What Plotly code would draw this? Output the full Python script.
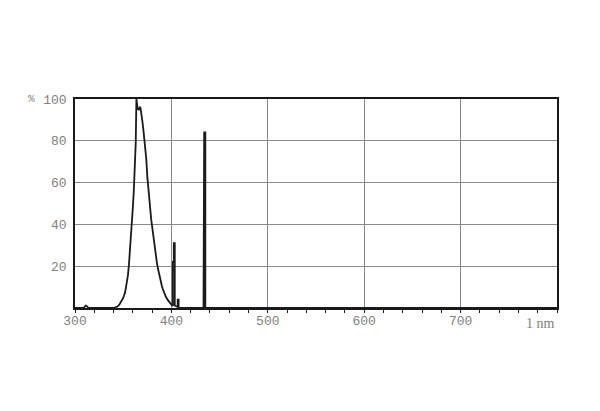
import plotly.graph_objects as go

# wavelength (nm) and transmission/intensity (%)
wavelength = [300, 309, 310, 311, 312, 313, 314, 340, 342, 344, 346, 348, 350, 352, 354, 355, 356, 357, 358, 359,
              360, 361, 362, 363, 363.7, 364.3, 365, 366, 366.6, 367.3, 368, 369, 370, 371, 372, 373, 374, 375,
              376, 377, 378, 379, 380, 381, 382, 383, 384, 385, 386, 387, 388, 389, 390, 391, 392, 394, 396,
              398, 400, 401, 401.5, 401.5, 402.5, 402.5, 403.5, 403.5, 404.5, 404.5, 406, 406.5, 406.5, 407.5,
              407.5, 409, 433.3, 433.3, 434, 434, 435.2, 435.2, 800]
percent = [0, 0, 0.6, 1.2, 1.0, 0.4, 0, 0, 0.2, 0.7, 1.6, 3.0, 4.8, 7.5, 12, 16, 21, 27, 34, 41,
           48, 56, 66, 79, 100, 97, 95.5, 94.7, 95.3, 96, 95.6, 93, 89, 85, 81, 77, 71, 63,
           57, 51, 46, 42.5, 39, 35, 31, 27.5, 24.5, 21.5, 19, 16.5, 14.5, 12.5, 10.8, 9.2, 7.8, 5.6, 4.0,
           2.6, 1.6, 1.2, 1.0, 22, 22, 31, 31, 1.2, 1.0, 0.8, 0.6, 0.5, 4, 4,
           0.3, 0, 0, 37, 37, 84, 84, 0, 0]

x_tick_vals = [300, 400, 500, 600, 700]
x_tick_text = ["300", "400", "500", "600", "700"]
y_tick_vals = [20, 40, 60, 80, 100]
y_tick_text = ["20", "40", "60", "80", "100"]

fig = go.Figure()
fig.add_trace(go.Scatter(
    x=wavelength, y=percent, mode="lines",
    line=dict(color="#1a1a1a", width=1.8),
    hoverinfo="skip", showlegend=False,
))

tick_font = dict(family="Liberation Mono, Courier New, monospace", size=13, color="#808080")

fig.update_layout(
    width=600, height=411,
    margin=dict(l=67, r=51, t=91, b=111),
    paper_bgcolor="white", plot_bgcolor="white",
    xaxis=dict(
        range=[300, 800], tickmode="array", tickvals=x_tick_vals, ticktext=x_tick_text,
        showgrid=True, gridcolor="#8a8a8a", gridwidth=1,
        showline=True, linecolor="#1a1a1a", linewidth=1.5, mirror=True,
        ticks="", tickfont=tick_font, zeroline=False,
        minor=dict(dtick=20, tick0=300, ticks="outside", ticklen=3, tickcolor="#1a1a1a", showgrid=False),
    ),
    yaxis=dict(
        range=[0, 100], tickmode="array", tickvals=y_tick_vals, ticktext=y_tick_text,
        showgrid=True, gridcolor="#8a8a8a", gridwidth=1,
        showline=True, linecolor="#1a1a1a", linewidth=1.5, mirror=True,
        ticks="", tickfont=tick_font, zeroline=False, ticklabelstandoff=4,
    ),
    annotations=[
        dict(text="%", x=0, y=100, xref="paper", yref="y", xanchor="right", yanchor="middle",
             xshift=-38, showarrow=False,
             font=dict(family="Liberation Mono, Courier New, monospace", size=11, color="#808080")),
        dict(text="1 nm", x=800, y=0, xref="x", yref="y", xanchor="right", yanchor="top",
             yshift=-6, showarrow=False,
             font=dict(family="Liberation Serif, Times New Roman, serif", size=14, color="#808080")),
    ],
)

fig.write_html("out.html")
